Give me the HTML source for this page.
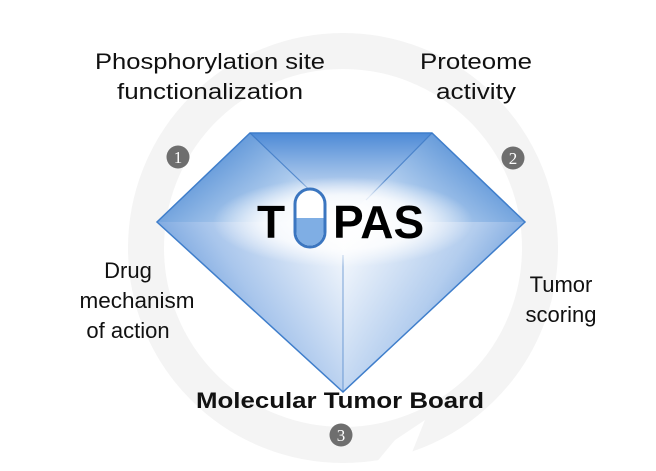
<!DOCTYPE html>
<html><head><meta charset="utf-8"><style>
html,body{margin:0;padding:0;background:#fff;}
svg{display:block;}
text{font-family:"Liberation Sans",Arial,sans-serif;}
</style></head><body>
<svg width="656" height="471" viewBox="0 0 656 471" xmlns="http://www.w3.org/2000/svg">
<defs>
<linearGradient id="gl" x1="0" y1="0.3" x2="1" y2="0.9"><stop offset="0" stop-color="#3d7fcf"/><stop offset="0.6" stop-color="#a9c8ec"/><stop offset="1" stop-color="#ffffff"/></linearGradient>
<linearGradient id="gr" x1="1" y1="0.3" x2="0" y2="0.9"><stop offset="0" stop-color="#3d7fcf"/><stop offset="0.6" stop-color="#a9c8ec"/><stop offset="1" stop-color="#ffffff"/></linearGradient>
<linearGradient id="gt" x1="0" y1="0" x2="0" y2="1"><stop offset="0" stop-color="#4d8ad6"/><stop offset="1" stop-color="#ffffff"/></linearGradient>
<linearGradient id="gbl" x1="1" y1="0" x2="0" y2="0.6"><stop offset="0" stop-color="#ffffff"/><stop offset="0.55" stop-color="#a9c6ec"/><stop offset="1" stop-color="#4a86d2"/></linearGradient>
<linearGradient id="gbr" x1="0" y1="0" x2="1" y2="0.6"><stop offset="0" stop-color="#ffffff"/><stop offset="0.55" stop-color="#b3cdee"/><stop offset="1" stop-color="#4a86d2"/></linearGradient>
<radialGradient id="glow" cx="0.5" cy="0.5" r="0.5"><stop offset="0" stop-color="#fff" stop-opacity="1"/><stop offset="0.6" stop-color="#fff" stop-opacity="0.8"/><stop offset="1" stop-color="#fff" stop-opacity="0"/></radialGradient>
</defs>
<circle cx="343" cy="248" r="197" fill="none" stroke="#f4f4f4" stroke-width="36"/>
<polygon points="395,440 425,420 405,470 370,470" fill="#fff"/>
<polygon points="250,133 157,222 343,222" fill="url(#gl)"/>
<polygon points="432,133 525,222 343,222" fill="url(#gr)"/>
<polygon points="250,133 432,133 343,222" fill="url(#gt)"/>
<polygon points="157,222 343,222 343,392" fill="url(#gbl)"/>
<polygon points="525,222 343,222 343,392" fill="url(#gbr)"/>
<polygon points="250,133 432,133 525,222 343,392 157,222" fill="none" stroke="#3f7ecb" stroke-width="1.5"/>
<line x1="250" y1="133" x2="320" y2="200" stroke="#2f6fc0" stroke-width="1.2" opacity="0.7"/>
<line x1="432" y1="133" x2="366" y2="200" stroke="#2f6fc0" stroke-width="1.2" opacity="0.7"/>
<line x1="343" y1="255" x2="343" y2="392" stroke="#2f6fc0" stroke-width="1" opacity="0.6"/>
<ellipse cx="343" cy="222" rx="130" ry="45" fill="url(#glow)"/>
<text x="257" y="238" font-size="46" font-weight="bold" fill="#000">T</text>
<rect x="295" y="189" width="30" height="58" rx="15" fill="#fff" stroke="#3b76c0" stroke-width="3"/>
<path d="M296.5 218 H323.5 V232 A13.5 13.5 0 0 1 296.5 232 Z" fill="#7faee4"/>
<text x="333" y="238" font-size="46" font-weight="bold" fill="#000">PAS</text>
<g font-size="22" fill="#111" text-anchor="middle">
<text x="210" y="69" textLength="230" lengthAdjust="spacingAndGlyphs">Phosphorylation site</text>
<text x="210" y="99" textLength="186" lengthAdjust="spacingAndGlyphs">functionalization</text>
<text x="476" y="69" textLength="112" lengthAdjust="spacingAndGlyphs">Proteome</text>
<text x="476" y="99" textLength="80" lengthAdjust="spacingAndGlyphs">activity</text>
<text x="128" y="278">Drug</text>
<text x="137" y="308" textLength="115" lengthAdjust="spacingAndGlyphs">mechanism</text>
<text x="128" y="338">of action</text>
<text x="561" y="292">Tumor</text>
<text x="561" y="322">scoring</text>
<text x="340" y="408" font-weight="bold" textLength="288" lengthAdjust="spacingAndGlyphs">Molecular Tumor Board</text>
</g>
<g font-size="17" fill="#fff" text-anchor="middle">
<circle cx="178" cy="157" r="11.5" fill="#6e6e6e"/><text x="178" y="163" style="font-family:'Liberation Serif',serif">1</text>
<circle cx="513" cy="158" r="11.5" fill="#6e6e6e"/><text x="513" y="164" style="font-family:'Liberation Serif',serif">2</text>
<circle cx="341" cy="435" r="11.5" fill="#6e6e6e"/><text x="341" y="441" style="font-family:'Liberation Serif',serif">3</text>
</g>
</svg>
</body></html>
